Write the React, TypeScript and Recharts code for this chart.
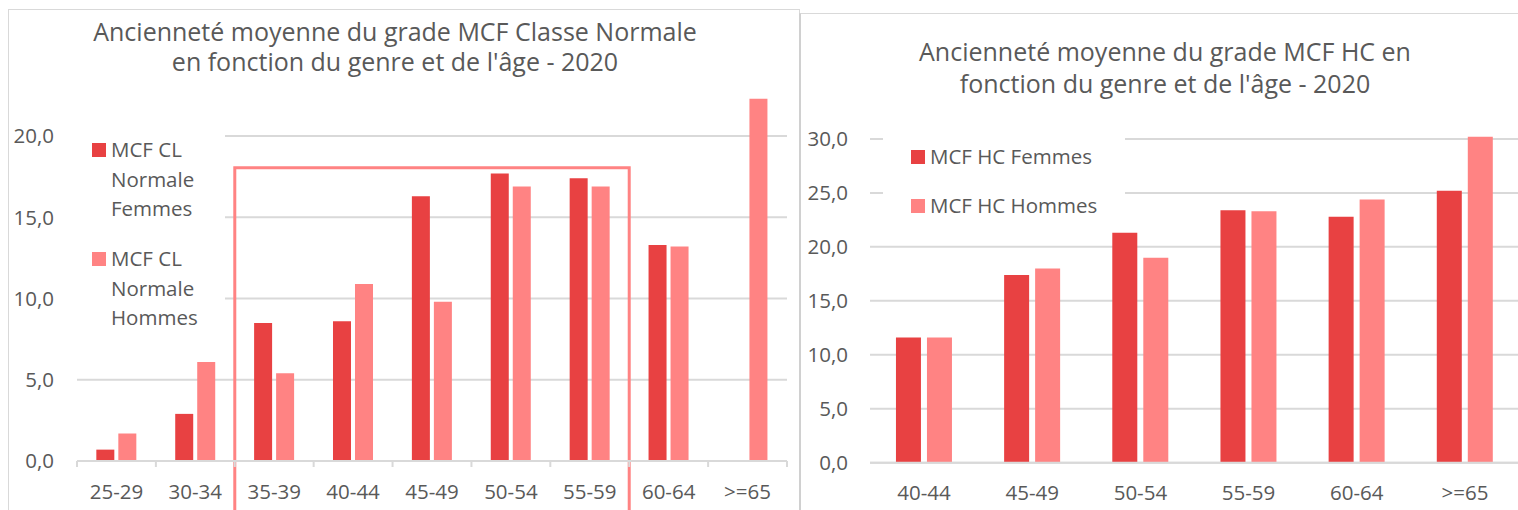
import { BarChart, Bar, XAxis, YAxis, CartesianGrid, Legend, ReferenceArea } from "recharts"

// Classe Normale, par tranche d'âge
const clAges = ["25-29", "30-34", "35-39", "40-44", "45-49", "50-54", "55-59", "60-64", ">=65"]
const clFemmes = [0.7, 2.9, 8.5, 8.6, 16.3, 17.7, 17.4, 13.3, null]
const clHommes = [1.7, 6.1, 5.4, 10.9, 9.8, 16.9, 16.9, 13.2, 22.3]
const clTicks = [0, 5, 10, 15, 20]

// Hors Classe, par tranche d'âge
const hcAges = ["40-44", "45-49", "50-54", "55-59", "60-64", ">=65"]
const hcFemmes = [11.6, 17.4, 21.3, 23.4, 22.8, 25.2]
const hcHommes = [11.6, 18.0, 19.0, 23.3, 24.4, 30.2]
const hcTicks = [0, 5, 10, 15, 20, 25, 30]

const clData = clAges.map((age, i) => ({ age, femmes: clFemmes[i], hommes: clHommes[i] }))
const hcData = hcAges.map((age, i) => ({ age, femmes: hcFemmes[i], hommes: hcHommes[i] }))

const FONT = "'Open Sans', sans-serif"
const TEXT = "#595959"
const GRID = "#D9D9D9"
const RED = "#E84142"
const PINK = "#FF8383"

const fmt = (v: number) => v.toFixed(1).replace(".", ",")

const tickStyle = { fill: TEXT, fontSize: 20.5, fontFamily: FONT }

function BandTick(props: any) {
  const { x, y, payload, index, band, count } = props
  const top = y - 23
  return (
    <g>
      <line x1={x - band / 2} x2={x - band / 2} y1={top} y2={top + 6} stroke={GRID} strokeWidth={2} />
      {index === count - 1 && (
        <line x1={x + band / 2} x2={x + band / 2} y1={top} y2={top + 6} stroke={GRID} strokeWidth={2} />
      )}
      <text x={x} y={y} dy="0.71em" textAnchor="middle" fill={TEXT} fontSize={20.5} fontFamily={FONT}>
        {payload.value}
      </text>
    </g>
  )
}

function LegendBox(props: any) {
  const { payload, squareLeft, textWidth, itemGap, padTop } = props
  return (
    <div style={{ background: "#fff", width: "100%", height: "100%", paddingTop: padTop, boxSizing: "border-box" }}>
      {(payload || []).map((p: any, i: number) => (
        <div key={p.value} style={{ display: "flex", alignItems: "flex-start", marginBottom: i === 0 ? itemGap : 0 }}>
          <span
            style={{
              width: 14,
              height: 14,
              background: p.color,
              marginLeft: squareLeft,
              marginTop: 7.75,
              marginRight: 5,
              flexShrink: 0,
            }}
          />
          <span
            style={{
              width: textWidth,
              fontFamily: FONT,
              fontSize: 20.5,
              lineHeight: "29.5px",
              color: TEXT,
              whiteSpace: textWidth ? "normal" : "nowrap",
            }}
          >
            {p.value}
          </span>
        </div>
      ))}
    </div>
  )
}

const titleStyle = {
  position: "absolute" as const,
  fontFamily: FONT,
  fontSize: 25,
  color: TEXT,
  textAlign: "center" as const,
}

export default function App() {
  const band = 710 / clAges.length
  return (
    <div
      style={{
        position: "fixed",
        left: 0,
        top: 0,
        width: 1518,
        height: 510,
        overflow: "hidden",
        background: "#fff",
      }}
    >
      {/* cadres des deux graphiques */}
      <div style={{ position: "absolute", left: 8, top: 9, width: 790, height: 600, border: `1.5px solid ${GRID}` }} />
      <div style={{ position: "absolute", left: 799, top: 13, width: 800, height: 600, borderLeft: "2px solid #D0D0D0", borderTop: `1.5px solid ${GRID}` }} />

      {/* Classe Normale */}
      <div style={{ ...titleStyle, left: 0, top: 15.5, width: 790, lineHeight: "30px" }}>
        Ancienneté moyenne du grade MCF Classe Normale
        <br />
        en fonction du genre et de l'âge - 2020
      </div>
      <div style={{ position: "absolute", left: 0, top: 0 }}>
        <BarChart
          width={800}
          height={510}
          data={clData}
          margin={{ top: 54.75, right: 13, left: 0, bottom: 0 }}
          barCategoryGap="24.5%"
          barGap={4}
        >
          <CartesianGrid vertical={false} stroke={GRID} strokeWidth={2} syncWithTicks />
          <XAxis
            dataKey="age"
            height={49}
            interval={0}
            tickSize={0}
            tickMargin={23}
            axisLine={{ stroke: GRID, strokeWidth: 2 }}
            tickLine={false}
            tick={(p: any) => <BandTick {...p} band={band} count={clAges.length} />}
          />
          <YAxis
            width={77}
            domain={[0, 25]}
            ticks={clTicks}
            tickFormatter={fmt}
            axisLine={false}
            tickLine={false}
            tickSize={0}
            tickMargin={23}
            tick={tickStyle}
          />
          <Bar dataKey="femmes" name="MCF CL Normale Femmes" fill={RED} isAnimationActive={false} />
          <Bar dataKey="hommes" name="MCF CL Normale Hommes" fill={PINK} isAnimationActive={false} />
          <ReferenceArea
            x1="35-39"
            x2="55-59"
            y1={-5}
            y2={18.05}
            fill="none"
            stroke={PINK}
            strokeWidth={3}
            ifOverflow="visible"
          />
          <Legend
            layout="vertical"
            align="center"
            verticalAlign="middle"
            wrapperStyle={{ left: 77, top: 133, width: 148, height: 202 }}
            content={(p: any) => <LegendBox {...p} squareLeft={15} textWidth={112} itemGap={20.5} padTop={2.25} />}
          />
        </BarChart>
      </div>

      {/* Hors Classe */}
      <div style={{ ...titleStyle, left: 800, top: 35.3, width: 730, lineHeight: "32px" }}>
        Ancienneté moyenne du grade MCF HC en
        <br />
        fonction du genre et de l'âge - 2020
      </div>
      <div style={{ position: "absolute", left: 800, top: 0 }}>
        <BarChart
          width={719}
          height={510}
          data={hcData}
          margin={{ top: 85, right: 0, left: 0, bottom: 0 }}
          barCategoryGap="24%"
          barGap={6}
        >
          <CartesianGrid vertical={false} stroke={GRID} strokeWidth={2} syncWithTicks />
          <XAxis
            dataKey="age"
            height={47.3}
            interval={0}
            tickSize={0}
            tickMargin={23}
            axisLine={{ stroke: GRID, strokeWidth: 2 }}
            tickLine={false}
            tick={tickStyle}
          />
          <YAxis
            width={70}
            domain={[0, 35]}
            ticks={hcTicks}
            tickFormatter={fmt}
            axisLine={false}
            tickLine={false}
            tickSize={0}
            tickMargin={22}
            tick={tickStyle}
          />
          <Bar dataKey="femmes" name="MCF HC Femmes" fill={RED} isAnimationActive={false} />
          <Bar dataKey="hommes" name="MCF HC Hommes" fill={PINK} isAnimationActive={false} />
          <Legend
            layout="vertical"
            align="center"
            verticalAlign="middle"
            wrapperStyle={{ left: 83, top: 128, width: 242, height: 97 }}
            content={(p: any) => <LegendBox {...p} squareLeft={28} textWidth={undefined} itemGap={19.5} padTop={14.25} />}
          />
        </BarChart>
      </div>
    </div>
  )
}
